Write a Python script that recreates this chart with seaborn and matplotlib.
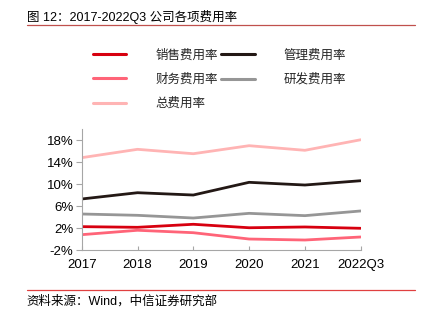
import matplotlib
matplotlib.use("Agg")
import matplotlib.pyplot as plt
import seaborn as sns
import pandas as pd
from matplotlib.lines import Line2D

years = ["2017", "2018", "2019", "2020", "2021", "2022Q3"]
sales = [2.30, 2.18, 2.73, 2.10, 2.24, 2.00]
mgmt = [7.33, 8.47, 8.05, 10.36, 9.87, 10.65]
finance = [0.84, 1.64, 1.20, 0.05, -0.13, 0.42]
rnd = [4.60, 4.36, 3.87, 4.72, 4.30, 5.15]
total = [14.84, 16.36, 15.56, 17.02, 16.18, 18.10]
yticks = [-2, 2, 6, 10, 14, 18]

names = ["销售费用率", "管理费用率", "财务费用率", "研发费用率", "总费用率"]
colors = {"销售费用率": "#D7000F", "管理费用率": "#231815", "财务费用率": "#FF6478",
          "研发费用率": "#969696", "总费用率": "#FFB4B4"}
series = [sales, mgmt, finance, rnd, total]

rows = []
for n, vals in zip(names, series):
    for i, v in enumerate(vals):
        rows.append({"x": i, "value": v, "series": n})
df = pd.DataFrame(rows)

sns.set_theme(style="white")
plt.rcParams["font.family"] = ["Liberation Sans", "Noto Sans CJK SC"]
plt.rcParams["axes.unicode_minus"] = False

W, H = 421, 323
fig = plt.figure(figsize=(W / 100, H / 100), dpi=100)
ax = fig.add_axes([81.7 / W, 1 - 250.3 / H, (360.7 - 81.7) / W, (250.3 - 129.3) / H])

sns.lineplot(data=df, x="x", y="value", hue="series", hue_order=names,
             palette=colors, linewidth=2.0, ax=ax, legend=False)

ax.set_xlim(0, len(years) - 1)
ax.set_ylim(-2, 20)
ax.set_xticks(range(len(years)))
ax.set_xticklabels(years)
ax.set_yticks(yticks)
ax.set_yticklabels([f"{t}%" for t in yticks])
ax.set_xlabel("")
ax.set_ylabel("")
for s in ["top", "right"]:
    ax.spines[s].set_visible(False)
for s in ["left", "bottom"]:
    ax.spines[s].set_color("#A6A6A6")
    ax.spines[s].set_linewidth(0.8)
ax.tick_params(axis="y", direction="out", length=4, width=0.8, color="#A6A6A6",
               labelsize=9.5, pad=2, left=True, labelcolor="#000000")
ax.tick_params(axis="x", direction="in", length=3, width=0.8, color="#A6A6A6",
               labelsize=9.5, pad=6, bottom=True, labelcolor="#000000")
ax.grid(False)

# legend (column-wise fill)
order = ["销售费用率", "财务费用率", "总费用率", "管理费用率", "研发费用率"]
handles = [Line2D([0], [0], color=colors[n], lw=2.2) for n in order]
fig.legend(handles, order, loc="upper left", ncol=2, frameon=False,
           bbox_to_anchor=(93.3 / W, 1 - 49.5 / H), borderaxespad=0, borderpad=0,
           handlelength=2.65, handletextpad=2.3, columnspacing=0.3,
           labelspacing=0.95, fontsize=9)

# title, rules, source
fig.text(26.7 / W, 1 - 17.3 / H, "图 12：2017-2022Q3 公司各项费用率", fontsize=9,
         va="center", ha="left", color="#000000")
fig.add_artist(Line2D([26.7 / W, 415 / W], [1 - 24.7 / H, 1 - 24.7 / H],
                      color="#C0504D", lw=0.9, transform=fig.transFigure))
fig.add_artist(Line2D([26.7 / W, 415 / W], [1 - 289.7 / H, 1 - 289.7 / H],
                      color="#E04040", lw=0.9, transform=fig.transFigure))
fig.text(26.7 / W, 1 - 301.7 / H, "资料来源：Wind，中信证券研究部", fontsize=9,
         va="center", ha="left", color="#000000")

fig.savefig("out.png", dpi=100)
